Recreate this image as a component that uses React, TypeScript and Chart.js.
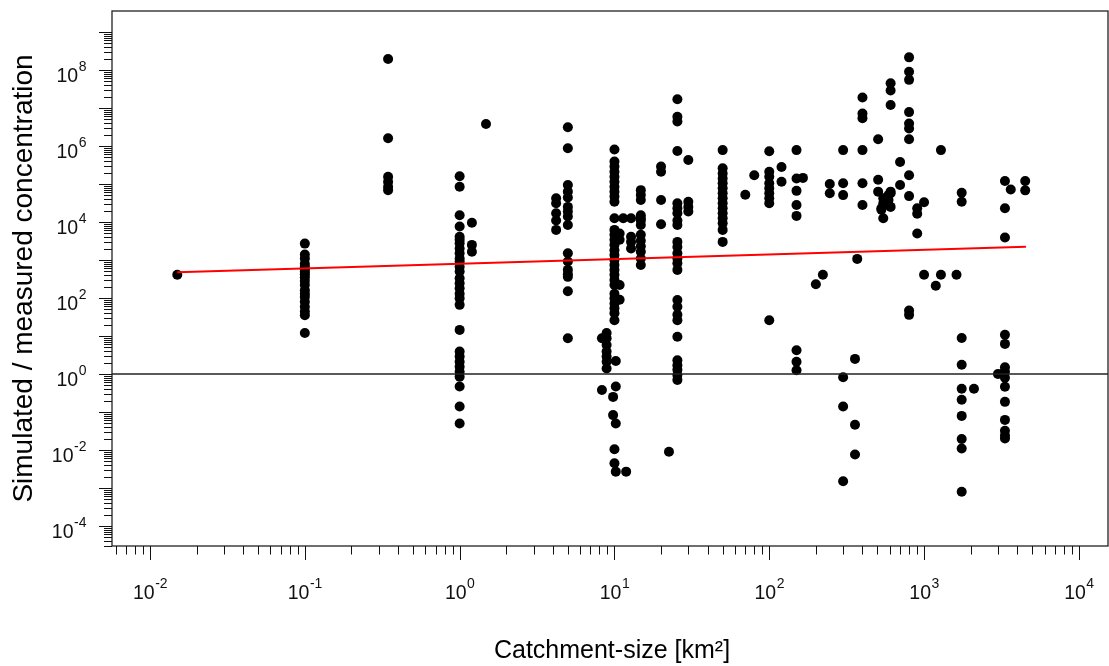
import { useEffect, useRef } from "react";
import { Chart, registerables } from "chart.js";

Chart.register(...registerables);

// ---- axis ranges (log scales) ----
const X_MIN = 0.00568;
const X_MAX = 15420;
const Y_MIN = 2.98e-5;
const Y_MAX = 3.57e9;

// labelled decades
const xLabelExps = [-2, -1, 0, 1, 2, 3, 4];
const yLabelExps = [-4, -2, 0, 2, 4, 6, 8];
const xTickMax = 1e4;
const yTickMax = 1e9;

const xTitle = "Catchment-size [km²]";
const yTitle = "Simulated / measured concentration";

// reference line (simulated = measured)
const refRatio = 1;

// regression line end points
const fitX = [0.015, 4550];
const fitY = [475, 2240];

// ---- simulated / measured ratio per catchment size [km²] ----
const s0015 = [410];
const s01 = [2700, 1400, 1100, 800, 660, 570, 490, 420, 350, 280, 220, 160, 130, 107, 80, 59, 44, 35, 12];
const s035 = [1.95e8, 1.6e6, 1.55e5, 1.15e5, 8.5e4, 6.9e4];
const s1 = [1.6e5, 8.5e4, 1.5e4, 7.6e3, 4.1e3, 3.4e3, 2.75e3, 2.0e3, 1.5e3, 1.1e3, 910, 660, 500, 330, 245, 180, 130, 98, 66, 14.5, 3.9, 2.9, 2.1, 1.55, 1.15, 0.85, 0.47, 0.14, 0.05];
const s12 = [9.6e3, 2.5e3, 1.65e3];
const s15 = [3.8e6];
const s42 = [4.2e4, 3.1e4, 1.7e4, 1.1e4, 6.2e3];
const s5 = [3.1e6, 8.7e5, 9.4e4, 6.3e4, 4.4e4, 2.5e4, 1.9e4, 1.4e4, 8.3e3, 1.5e3, 910, 550, 420, 360, 150, 8.7];
const s83 = [8.7, 0.38];
const s89 = [12, 8.7, 5.8, 3.9, 2.9, 2.1, 1.4];
const s98 = [0.25, 0.083];
const s10 = [8.1e5, 3.9e5, 2.9e5, 2.1e5, 1.55e5, 1.15e5, 8.5e4, 6.3e4, 4.7e4, 3.4e4, 1.25e4, 6.2e3, 4.6e3, 3.4e3, 2.5e3, 1.8e3, 1.35e3, 1.0e3, 740, 550, 410, 300, 220, 130, 98, 72, 54, 40, 26, 0.0105, 0.0045];
const s102 = [2.2, 0.47, 0.05, 0.0027];
const s108 = [5.0e3, 3.4e3, 220, 90];
const s114 = [1.25e4];
const s119 = [0.0027];
const s128 = [1.25e4, 4.1e3, 3.0e3, 2.0e3];
const s148 = [6.9e4, 5.1e4, 3.8e4, 1.5e4, 1.25e4, 1.1e4, 8.3e3, 4.6e3, 3.2e3, 2.3e3, 1.65e3, 1.1e3, 740];
const s20 = [2.9e5, 2.1e5, 3.8e4, 8.7e3];
const s23 = [0.009];
const s25 = [1.7e7, 5.9e6, 4.4e6, 7.4e5, 3.1e4, 2.3e4, 1.7e4, 1.1e4, 8.3e3, 3.0e3, 2.2e3, 1.5e3, 1.1e3, 820, 550, 89, 59, 36, 26, 9.6, 2.3, 1.7, 1.3, 0.94, 0.7];
const s30 = [4.3e5, 3.4e4, 2.5e4, 1.9e4];
const s50 = [7.8e5, 2.6e5, 1.9e5, 1.4e5, 1.05e5, 7.7e4, 5.7e4, 4.2e4, 3.1e4, 2.3e4, 1.7e4, 1.25e4, 9.3e3, 6.2e3, 3.0e3];
const s70 = [5.2e4];
const s80 = [1.7e5];
const s100 = [7.3e5, 2.1e5, 1.55e5, 1.05e5, 7.7e4, 5.7e4, 4.2e4, 3.1e4, 26];
const s120 = [2.8e5, 1.15e5];
const s150 = [7.8e5, 1.4e5, 6.6e4, 2.8e4, 1.45e4, 4.2, 2.1, 1.25];
const s165 = [1.45e5];
const s200 = [230];
const s222 = [410];
const s246 = [1.0e5, 5.7e4];
const s300 = [7.8e5, 1.05e5, 5.1e4, 0.82, 0.14, 0.0015];
const s358 = [2.5, 0.046, 0.0076];
const s370 = [1.07e3];
const s400 = [1.9e7, 7.2e6, 5.4e6, 7.8e5, 1.05e5, 2.8e4];
const s505 = [1.5e6, 1.3e5, 6.3e4];
const s530 = [2.3e4, 2.1e4];
const s545 = [4.2e4, 3.1e4, 1.25e4];
const s589 = [5.1e4, 3.8e4, 2.8e4];
const s608 = [4.5e7, 2.9e7, 1.2e7, 6.3e4, 5.7e4, 2.5e4];
const s700 = [3.8e5, 9.4e4];
const s800 = [2.15e8, 9e7, 5.5e7, 7.8e6, 3.9e6, 2.9e6, 1.5e6, 1.7e5, 4.8e4, 47, 36];
const s903 = [2.3e4, 1.65e4, 5e3];
const s1000 = [3.3e4, 410];
const s1190 = [210];
const s1285 = [7.8e5, 410];
const s1620 = [410];
const s1750 = [5.9e4, 3.4e4, 8.9, 1.75, 0.41, 0.21, 0.079, 0.0195, 0.011, 0.0008];
const s2100 = [0.41];
const s3000 = [1.0];
const s3200 = [1.0];
const s3330 = [1.2e5, 2.3e4, 3.9e3, 10.8, 6.2, 1.5, 1.15, 0.8, 0.46, 0.185, 0.062, 0.032, 0.024, 0.02];
const s3630 = [7.2e4];
const s4500 = [1.2e5, 6.8e4];

const sites: [number, number[]][] = [
  [0.015, s0015], [0.1, s01], [0.345, s035], [1, s1], [1.2, s12], [1.48, s15],
  [4.2, s42], [5, s5], [8.3, s83], [8.9, s89], [9.8, s98], [10, s10], [10.2, s102],
  [10.8, s108], [11.4, s114], [11.9, s119], [12.8, s128], [14.8, s148], [20, s20],
  [22.5, s23], [25.5, s25], [30, s30], [50, s50], [70, s70], [80, s80], [100, s100],
  [120, s120], [150, s150], [165, s165], [200, s200], [222, s222], [246, s246],
  [300, s300], [358, s358], [370, s370], [400, s400], [505, s505], [530, s530],
  [545, s545], [589, s589], [608, s608], [700, s700], [800, s800], [903, s903],
  [1000, s1000], [1190, s1190], [1285, s1285], [1620, s1620], [1750, s1750],
  [2100, s2100], [3000, s3000], [3200, s3200], [3330, s3330], [3630, s3630], [4500, s4500],
];

const FONT = '"Liberation Sans", Arial, sans-serif';

function drawPow(ctx: CanvasRenderingContext2D, exp: number, x: number, baseline: number, align: "center" | "right") {
  const base = "10";
  const sup = String(exp);
  ctx.font = `19.5px ${FONT}`;
  const wb = ctx.measureText(base).width;
  ctx.font = `14px ${FONT}`;
  const ws = ctx.measureText(sup).width;
  const total = wb + ws;
  const start = align === "center" ? x - total / 2 : x - total;
  ctx.textAlign = "left";
  ctx.textBaseline = "alphabetic";
  ctx.font = `19.5px ${FONT}`;
  ctx.fillText(base, start, baseline);
  ctx.font = `14px ${FONT}`;
  ctx.fillText(sup, start + wb + 0.5, baseline - 11);
}

const axesPlugin: any = {
  id: "rAxes",
  afterDatasetsDraw(chart: any) {
    const { ctx, chartArea: a, scales } = chart;
    const xs = scales.x;
    const ys = scales.y;
    ctx.save();

    // horizontal reference line
    const yRef = ys.getPixelForValue(refRatio);
    ctx.strokeStyle = "#222";
    ctx.lineWidth = 1.4;
    ctx.beginPath();
    ctx.moveTo(a.left, yRef);
    ctx.lineTo(a.right, yRef);
    ctx.stroke();

    // box
    ctx.strokeStyle = "#222";
    ctx.lineWidth = 1.3;
    ctx.strokeRect(a.left, a.top, a.right - a.left, a.bottom - a.top);

    // ticks
    ctx.strokeStyle = "#111";
    ctx.lineWidth = 1;
    ctx.beginPath();
    for (let e = -3; e <= 4; e++) {
      for (let m = 1; m <= 9; m++) {
        const v = m * Math.pow(10, e);
        if (v < X_MIN || v > xTickMax * 1.0001) continue;
        const px = Math.round(xs.getPixelForValue(v)) + 0.5;
        const len = m === 1 ? 14 : 8.5;
        ctx.moveTo(px, a.bottom);
        ctx.lineTo(px, a.bottom + len);
      }
    }
    for (let e = -5; e <= 9; e++) {
      for (let m = 1; m <= 9; m++) {
        const v = m * Math.pow(10, e);
        if (v < Y_MIN || v > yTickMax * 1.0001) continue;
        const py = Math.round(ys.getPixelForValue(v)) + 0.5;
        const len = m === 1 ? 13 : 8;
        ctx.moveTo(a.left, py);
        ctx.lineTo(a.left - len, py);
      }
    }
    ctx.stroke();

    // tick labels
    ctx.fillStyle = "#111";
    for (const e of xLabelExps) {
      drawPow(ctx, e, xs.getPixelForValue(Math.pow(10, e)), a.bottom + 53, "center");
    }
    for (const e of yLabelExps) {
      drawPow(ctx, e, a.left - 26, ys.getPixelForValue(Math.pow(10, e)) + 11.5, "right");
    }

    // axis titles
    ctx.fillStyle = "#000";
    ctx.font = `25px ${FONT}`;
    ctx.textAlign = "center";
    ctx.textBaseline = "alphabetic";
    ctx.fillText(xTitle, (a.left + a.right) / 2 + 2, 658);

    ctx.save();
    ctx.translate(32, (a.top + a.bottom) / 2);
    ctx.rotate(-Math.PI / 2);
    ctx.font = `28px ${FONT}`;
    ctx.fillText(yTitle, 0, 0);
    ctx.restore();

    ctx.restore();
  },
};

export default function App() {
  const ref = useRef<HTMLCanvasElement>(null);
  useEffect(() => {
    const canvas = ref.current;
    if (!canvas) return;
    const points = sites.flatMap(([x, ys]) => ys.map((y) => ({ x, y })));
    const fit = fitX.map((x, i) => ({ x, y: fitY[i] }));
    const chart = new Chart(canvas, {
      type: "scatter",
      data: {
        datasets: [
          {
            type: "line",
            data: fit,
            borderColor: "#ff0000",
            borderWidth: 2,
            pointRadius: 0,
            fill: false,
            order: 0,
          } as any,
          {
            type: "scatter",
            data: points,
            backgroundColor: "#000",
            borderColor: "#000",
            borderWidth: 0,
            pointRadius: 5,
            order: 1,
          } as any,
        ],
      },
      options: {
        responsive: false,
        animation: false,
        devicePixelRatio: 1,
        events: [],
        layout: { padding: { left: 112, top: 11, right: 1, bottom: 120 }, autoPadding: false },
        plugins: { legend: { display: false }, tooltip: { enabled: false } },
        scales: {
          x: { type: "logarithmic", min: X_MIN, max: X_MAX, display: false },
          y: { type: "logarithmic", min: Y_MIN, max: Y_MAX, display: false },
        },
      } as any,
      plugins: [axesPlugin],
    });
    return () => chart.destroy();
  }, []);
  return (
    <canvas
      ref={ref}
      width={1109}
      height={666}
      style={{ position: "fixed", left: 0, top: 0, display: "block", background: "#fff" }}
    />
  );
}
